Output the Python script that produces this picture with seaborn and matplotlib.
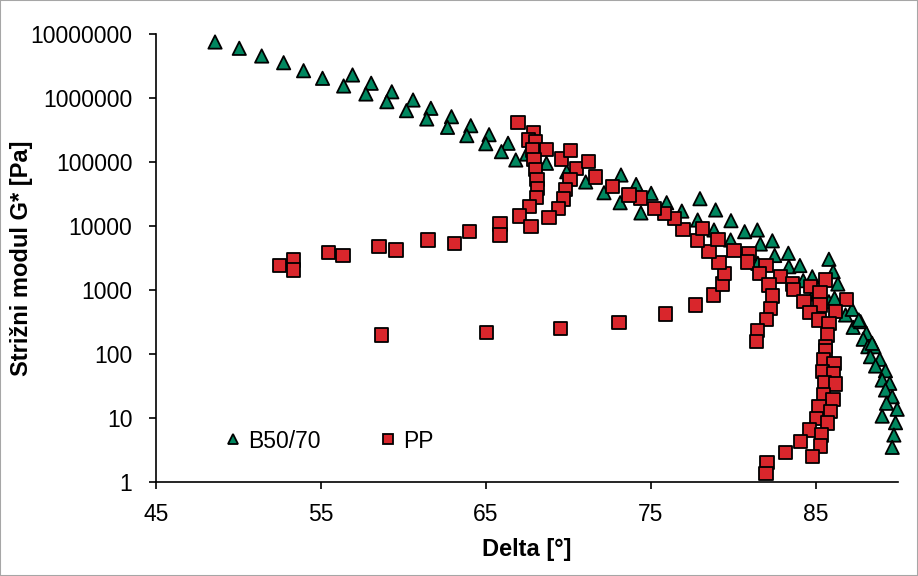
import pandas as pd
import seaborn as sns
import matplotlib.pyplot as plt
from matplotlib.patches import Rectangle
from matplotlib.ticker import FixedLocator, NullLocator

# B50/70 bitumen: phase angle [deg] and complex shear modulus [Pa]
b_delta = [48.58, 50.05, 51.41, 52.74, 53.95, 55.10, 56.92, 56.38, 58.05, 57.73,
           59.30, 59.00, 60.59, 60.19, 61.67, 61.42, 62.92, 62.68, 64.09, 63.85,
           65.20, 65.00, 66.35, 65.95, 66.82, 67.48, 68.68, 69.91, 71.06, 72.17,
           73.20, 73.15, 74.12, 74.41, 75.03, 75.97, 76.89, 77.99, 78.94, 77.85,
           79.87, 78.84, 80.70, 81.47, 79.85, 81.65, 82.38, 82.52, 83.35, 81.50,
           83.38, 84.05, 84.80, 84.25, 85.81, 86.07, 86.35, 84.90, 85.81, 86.15,
           86.82, 87.22, 87.28, 87.73, 88.09, 87.89, 88.17, 88.54, 88.33, 88.90,
           88.64, 89.24, 89.04, 89.50, 89.24, 89.65, 89.30, 89.95, 89.04, 89.85,
           89.75, 89.65, 85.10, 87.62, 88.43]
b_g = [7.50e6, 5.98e6, 4.53e6, 3.56e6, 2.67e6, 2.03e6, 2.29e6, 1.54e6, 1.70e6, 1.155e6,
       1.25e6, 8.75e5, 9.30e5, 6.34e5, 6.90e5, 4.70e5, 5.10e5, 3.48e5, 3.69e5, 2.58e5,
       2.67e5, 1.93e5, 1.96e5, 1.45e5, 1.075e5, 1.33e5, 9.55e4, 7.05e4, 4.87e4, 3.31e4,
       6.26e4, 2.31e4, 4.45e4, 1.60e4, 3.24e4, 2.31e4, 1.71e4, 2.67e4, 1.78e4, 1.24e4,
       1.21e4, 8660, 8150, 8660, 6040, 5230, 5870, 3460, 3750, 2610,
       2310, 2410, 1610, 1400, 3020, 1930, 1240, 866, 656, 745,
       407, 499, 261, 320, 211, 170, 130, 130, 90.8, 82.6,
       64.9, 54.8, 39.2, 34.8, 27.4, 21.5, 17.0, 13.7, 10.7, 8.45,
       5.42, 3.48, 888, 340, 147]

# polymer modified binder (PP)
pp_delta = [66.96, 67.91, 67.58, 68.01, 67.83, 68.70, 67.93, 69.61, 70.15, 68.00,
            70.52, 71.23, 71.67, 68.10, 70.11, 68.13, 69.85, 68.06, 69.71, 67.65,
            69.41, 67.05, 68.84, 67.75, 65.87, 65.87, 64.03, 63.12, 61.50, 59.56,
            58.52, 56.35, 55.47, 53.32, 53.32, 52.47, 58.68, 65.06, 69.55, 73.08,
            75.91, 77.73, 78.80, 79.35, 79.48, 79.14, 78.53, 79.08, 77.83, 78.13,
            76.97, 76.44, 75.83, 75.22, 74.39, 73.68, 72.68, 80.05, 80.96, 80.86,
            82.00, 81.62, 82.88, 82.17, 83.60, 83.65, 82.38, 82.27, 82.03, 81.47,
            81.42, 84.70, 85.61, 85.26, 84.29, 86.88, 85.26, 84.66, 85.20, 86.21,
            85.81, 85.71, 85.61, 85.61, 85.50, 86.11, 85.42, 86.09, 85.55, 86.21,
            85.50, 86.05, 85.20, 85.91, 85.06, 85.71, 84.64, 85.35, 84.09, 85.30,
            83.18, 84.82, 82.06, 82.00]
pp_g = [4.11e5, 2.92e5, 2.21e5, 2.11e5, 1.54e5, 1.56e5, 1.09e5, 1.11e5, 1.52e5, 7.58e4,
        7.83e4, 1.03e5, 5.83e4, 5.37e4, 5.29e4, 3.88e4, 3.74e4, 2.81e4, 2.64e4, 2.00e4,
        1.88e4, 1.44e4, 1.35e4, 9750, 1.07e4, 7230, 8150, 5370, 6040, 4220,
        4750, 3440, 3880, 2940, 2050, 2430, 198, 218, 252, 313,
        422, 583, 835, 1240, 1820, 2710, 3970, 6200, 5940, 9200,
        8820, 1.30e4, 1.56e4, 1.86e4, 2.74e4, 3.05e4, 4.17e4, 4140, 3680, 2740,
        2390, 1820, 1610, 1200, 1240, 1025, 806, 518, 348, 231,
        156, 1130, 1430, 908, 656, 716, 583, 442, 340, 458,
        302, 198, 130, 111, 80.5, 71.6, 52.9, 48.7, 35.6, 34.0,
        22.9, 19.6, 15.0, 12.7, 9.89, 8.35, 6.49, 5.42, 4.26, 3.65,
        2.87, 2.48, 2.00, 1.37]

series_names = ["B50/70", "PP"]
x_ticks = [45, 55, 65, 75, 85]
y_ticks = [1, 10, 100, 1000, 10000, 100000, 1000000, 10000000]

df = pd.concat([
    pd.DataFrame({"Delta": b_delta, "G": b_g, "series": series_names[0]}),
    pd.DataFrame({"Delta": pp_delta, "G": pp_g, "series": series_names[1]}),
], ignore_index=True)

sns.set_style("ticks")
plt.rcParams['font.family'] = ['Liberation Sans', 'DejaVu Sans']
plt.rcParams.update({"text.color": "black", "axes.labelcolor": "black",
                     "xtick.color": "black", "ytick.color": "black"})

fig = plt.figure(figsize=(9.18, 5.76), dpi=100)
ax = fig.add_axes([156 / 918, 1 - 482 / 576, (898 - 156) / 918, (482 - 34) / 576])

sns.scatterplot(data=df, x="Delta", y="G", hue="series", style="series",
                palette={"B50/70": "#00875F", "PP": "#D9262C"},
                markers={"B50/70": "^", "PP": "s"},
                s=92, edgecolor="black", linewidth=1.3, ax=ax,
                clip_on=False, zorder=3)

ax.set_yscale("log")
ax.set_xlim(45, 90)
ax.set_ylim(1, 1e7)
ax.yaxis.set_major_locator(FixedLocator(y_ticks))
ax.yaxis.set_minor_locator(NullLocator())
ax.set_yticklabels([str(v) for v in y_ticks])
ax.set_xticks(x_ticks)
sns.despine(ax=ax)
for sp in ax.spines.values():
    sp.set_linewidth(1.2)
    sp.set_color("black")
ax.tick_params(axis="both", direction="out", length=5, width=1.2,
               colors="black", labelcolor="black", labelsize=16.5)
ax.tick_params(axis="y", pad=12)
ax.tick_params(axis="x", pad=10)

ax.set_xlabel("Delta [°]", fontsize=17, fontweight="bold", color="black")
ax.set_ylabel("Strižni modul G* [Pa]", fontsize=17, fontweight="bold", color="black")
ax.xaxis.set_label_coords(0.5, -0.125)
ax.yaxis.set_label_coords(-0.166, 0.5)

handles, labels = ax.get_legend_handles_labels()
leg = ax.legend(handles, labels, loc="center left", bbox_to_anchor=(0.063, 0.0915),
                ncol=2, frameon=False, fontsize=16.5, markerscale=0.8,
                handlelength=0.8, handletextpad=0.3, columnspacing=2.5)
for t in leg.get_texts():
    t.set_color("black")

fig.patches.append(Rectangle((0, 0), 1, 1, transform=fig.transFigure,
                             fill=False, edgecolor="#A6A6A6", linewidth=1.5))

fig.savefig("out.png", dpi=100)
